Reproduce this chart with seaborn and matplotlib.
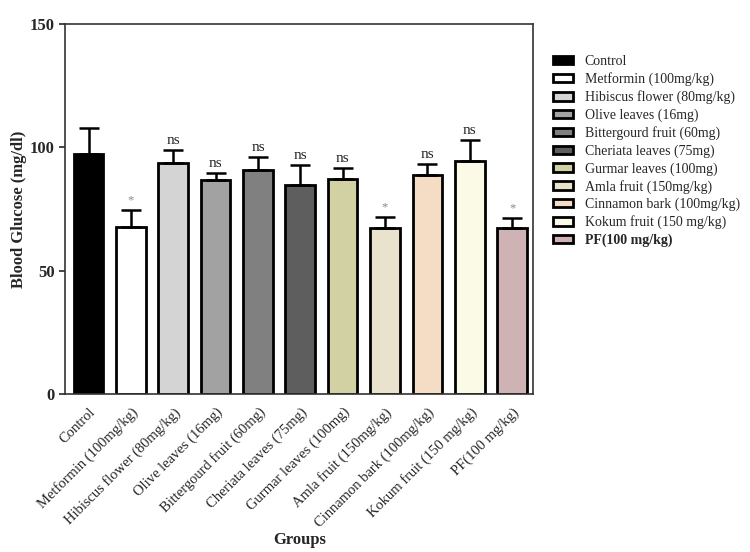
import matplotlib
matplotlib.use('Agg')
import matplotlib.pyplot as plt
import numpy as np
import pandas as pd
import seaborn as sns

groups = ["Control", "Metformin (100mg/kg)", "Hibiscus flower (80mg/kg)", "Olive leaves (16mg)",
          "Bittergourd fruit (60mg)", "Cheriata leaves (75mg)", "Gurmar leaves (100mg)",
          "Amla fruit (150mg/kg)", "Cinnamon bark (100mg/kg)", "Kokum fruit (150 mg/kg)", "PF(100 mg/kg)"]
means = [97.2, 67.8, 93.8, 86.8, 90.8, 84.6, 87.2, 67.4, 88.8, 94.4, 67.2]
sems = [10.4, 6.6, 5.1, 2.8, 5.4, 8.3, 4.4, 4.3, 4.4, 8.6, 4.0]
marks = ["", "*", "ns", "ns", "ns", "ns", "ns", "*", "ns", "ns", "*"]
colors = ["#000000", "#ffffff", "#d4d4d4", "#a2a2a2", "#808080", "#5e5e5e",
          "#d8d89c", "#ede6c9", "#fddcbd", "#fefde3", "#d4adaf"]

df = pd.DataFrame({"group": groups, "mean": means, "sem": sems})

sns.set_style("ticks")
plt.rcParams['font.family'] = ['Liberation Serif', 'DejaVu Serif']

fig = plt.figure(figsize=(7.5, 5.52), dpi=100)
ax = fig.add_axes([0.087, 0.286, 0.624, 0.671])

sns.barplot(data=df, x="group", y="mean", hue="group", palette=colors, dodge=False,
            edgecolor="black", linewidth=2, width=0.7, ax=ax, legend=True)

x = np.arange(len(groups))
ax.errorbar(x, means, yerr=[np.zeros(len(sems)), sems], fmt="none", ecolor="black",
            elinewidth=1.8, capsize=7, capthick=1.8)

for xi, m, s, t in zip(x, means, sems, marks):
    if t == "ns":
        ax.text(xi, m + s + 1.2, t, ha="center", va="bottom", fontsize=11)
    elif t:
        ax.text(xi, m + s + 1.5, t, ha="center", va="bottom", fontsize=9, color="#888888")

ax.set_ylim(0, 150)
ax.set_xlim(-0.55, len(groups) - 0.5)
ax.set_yticks([0, 50, 100, 150])
ax.set_yticklabels(["0", "50", "100", "150"], fontweight="bold", fontsize=12)
ax.set_xticks(x)
ax.set_xticklabels(groups, rotation=45, ha="right", rotation_mode="anchor", fontsize=10.5)
ax.tick_params(axis="x", length=0, pad=8)
ax.tick_params(axis="y", length=4, width=1.2)
ax.set_ylabel("Blood Glucose (mg/dl)", fontweight="bold", fontsize=12, labelpad=2)
ax.set_xlabel("Groups", fontweight="bold", fontsize=12, labelpad=2)
for sp in ax.spines.values():
    sp.set_visible(True)
    sp.set_linewidth(1.2)
    sp.set_color("#333333")

handles, labels = ax.get_legend_handles_labels()
leg = ax.legend(handles, labels, loc="upper left", bbox_to_anchor=(1.03, 0.93), frameon=False,
                fontsize=10, handlelength=1.45, handleheight=0.55, handletextpad=0.85,
                labelspacing=0.3, borderaxespad=0)
leg.get_texts()[-1].set_fontweight("bold")

fig.savefig("out.png", dpi=100)
